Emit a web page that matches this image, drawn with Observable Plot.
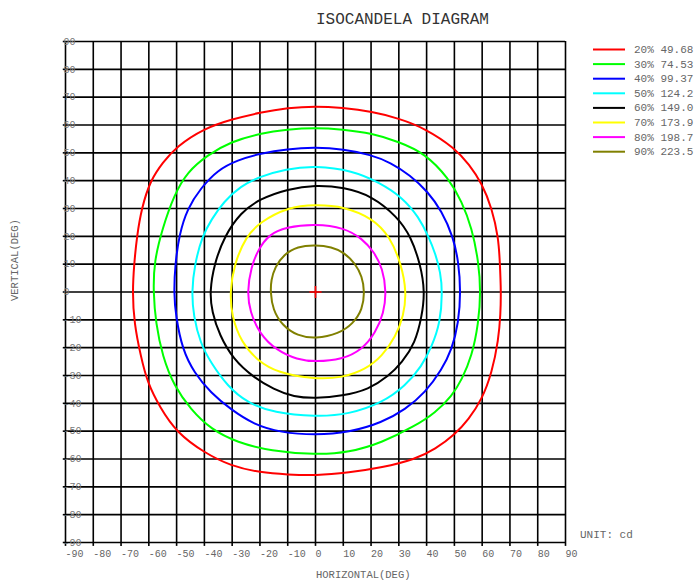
<!DOCTYPE html>
<html>
<head>
<meta charset="utf-8">
<script src="https://cdn.jsdelivr.net/npm/d3@7"></script>
<script src="https://cdn.jsdelivr.net/npm/@observablehq/plot@0.6"></script>
<style>
  html, body { margin: 0; padding: 0; background: #fff; }
  svg { display: block; }
</style>
</head>
<body>
<div id="chart"></div>
<script>
// ---- data (degrees) ----
const ticks = [-90, -80, -70, -60, -50, -40, -30, -20, -10, 0, 10, 20, 30, 40, 50, 60, 70, 80, 90];
const levelLabels = ["20% 49.68", "30% 74.53", "40% 99.37", "50% 124.2", "60% 149.0", "70% 173.9", "80% 198.7", "90% 223.5"];
const levelColors = ["#ff0000", "#00ff00", "#0000ff", "#00ffff", "#000000", "#ffff00", "#ff00ff", "#808000"];

const c20 = [[66.8,0],[66.4,10],[65.9,19.4],[63.5,30.1],[59.9,39.1],[55.3,45.8],[50.3,51.6],[39.5,58.8],[29.9,62.4],[20.4,64.8],[9.6,66.2],[0,66.8],
  [-9.9,66.2],[-20,64.5],[-29.9,62.1],[-40.1,58.8],[-50.1,52.2],[-55,46.5],[-59.5,40],[-62.6,30.1],[-64.3,20],[-65.3,10],[-65.9,0],
  [-65.3,-11.1],[-62.9,-23.1],[-60.5,-32.6],[-56,-41.5],[-50,-50.5],[-40.1,-57.7],[-30.5,-62.5],[-19.8,-64.9],[-10,-65.6],[0,-66],
  [12,-64.9],[24,-63.1],[35.9,-60.1],[43.1,-56.5],[50.3,-51.1],[55.1,-45.8],[59.9,-38.6],[63.5,-29],[65.9,-17.1],[66.6,-8]];
const c30 = [[59.5,0],[58.7,11],[56.3,22.9],[52.7,32.5],[47.9,40.9],[39.5,49.8],[29.9,54],[20.4,57],[9.6,58.4],[0,59],
  [-10.2,58.4],[-19.8,57],[-30.5,54],[-38.9,49.2],[-46.1,43.2],[-50.9,34.9],[-55.1,22.9],[-58.1,11],[-58.4,0],
  [-57.5,-11.1],[-55.1,-23.1],[-50.9,-33.8],[-44.9,-42.2],[-37.7,-49.3],[-28.1,-54.1],[-16.2,-57.1],[0,-58.5],
  [12,-57.7],[24,-54.1],[35.9,-48.1],[43.1,-43.4],[49.1,-37.4],[52.7,-31.4],[56.3,-23.1],[58.7,-11.1]];
const c40 = [[52.3,0],[51.5,11],[49.5,20],[45.5,29],[40.5,36],[34,42],[27,46.5],[20,49.3],[10,51.3],[0,52],
  [-10.2,51.4],[-19.8,49.8],[-28.1,47.4],[-35.3,43.8],[-41.3,37.3],[-46.1,30.1],[-49.1,20.5],[-50.5,10],[-51,0],
  [-50.3,-8.7],[-47.9,-20.7],[-43.7,-29],[-37.7,-36.2],[-30.5,-42.2],[-22.2,-47.6],[-12.6,-50.5],[0,-51.4],
  [12,-50.5],[24,-46.9],[32.3,-42.2],[39.5,-36.2],[45.5,-27.8],[49.1,-20.7],[51.5,-11.1]];
const c50 = [[45.7,0],[45,7],[43.2,13.7],[40.8,19.7],[37.2,26.9],[31.3,34],[22.9,39.4],[13.3,43.6],[0,45.4],
  [-10.8,44.2],[-20,41.5],[-27,38],[-33,32.5],[-37.5,26],[-40.8,20],[-43.5,10],[-44.6,0],
  [-43.9,-8.7],[-41.5,-18.3],[-37.7,-25.4],[-31.7,-33.8],[-24.6,-39.8],[-15,-43.4],[0,-44.8],
  [12,-44],[24,-39.8],[32.3,-33.8],[38.3,-26.6],[41.9,-19.5],[44.9,-11.1]];
const c60 = [[39.4,0],[37.8,9.9],[34.3,20],[29.5,27],[20.2,34.6],[10.3,37.6],[0,38.5],
  [-10,37],[-20,33.5],[-27,28.5],[-32.8,20],[-36.5,10],[-38.1,0],
  [-37.3,-7],[-34.6,-15.5],[-29.5,-24.3],[-22.5,-30.5],[-15,-35],[-7.8,-37.7],[0,-38.2],
  [9.6,-37.4],[19.2,-35],[26.3,-30.2],[31.1,-25.4],[35.9,-18.3],[38.3,-8.7]];
const c70 = [[32.8,0],[30.9,9.9],[26.8,20],[20.5,26.5],[10.3,30.7],[0,31.4],
  [-10,30.5],[-20,25.1],[-25,20],[-29.3,10],[-30.8,0],
  [-30.2,-8.7],[-26.6,-18.3],[-21,-24.5],[-13.8,-29],[0,-31.4],
  [9.6,-30.8],[18,-27.8],[24,-23.1],[28.9,-15.9],[31.7,-8.7]];
const c80 = [[25.5,0],[24.2,8.5],[21,14.5],[16.9,19.1],[10.3,23.1],[0,24.5],
  [-10.8,23.3],[-16.8,20.6],[-20.6,15.3],[-23.2,9],[-24.6,0],
  [-23.6,-7],[-20.2,-15],[-14,-21],[-6.6,-24.3],[0,-25.1],
  [9.6,-24.3],[16.8,-20.7],[21.6,-14.7],[24.6,-7.5]];
const c90 = [[17.7,0],[16.8,5.6],[14.2,10.4],[10.3,14.2],[5.8,16.2],[0,16.9],
  [-6.5,16.4],[-11.4,13.5],[-14.6,9],[-16,4.2],[-16.2,0],
  [-15.4,-6.3],[-12,-12],[-6.5,-15.8],[0,-16.8],
  [8.4,-15],[13.6,-11.3],[16.9,-6.3]];
const contours = [c20, c30, c40, c50, c60, c70, c80, c90];

// ---- chart ----
const FONT = "'Liberation Mono', 'DejaVu Sans Mono', monospace";
const W = 697, H = 581;
const mL = 65, mR = 132, mT = 41, mB = 39;

const marks = [
  Plot.ruleX(ticks, {stroke: "#000", strokeWidth: 1.6}),
  Plot.ruleY(ticks, {stroke: "#000", strokeWidth: 1.6}),
  Plot.ruleX(ticks, {x: d => d, y1: -90, y2: -91.4, stroke: "#000", strokeWidth: 1.6}),
  Plot.ruleY(ticks, {y: d => d, x1: -90, x2: -90.8, stroke: "#000", strokeWidth: 1.6}),
  Plot.text(ticks, {x: d => d, y: -90, text: d => String(d), dy: 11, textAnchor: "start", fontSize: 10, fill: "#666"}),
  Plot.text(ticks, {x: -90, y: d => d, text: d => String(d), dx: -2, textAnchor: "start", fontSize: 10, fill: "#777"})
];
contours.forEach((c, i) => {
  marks.push(Plot.line(c, {x: d => d[0], y: d => d[1], stroke: levelColors[i], strokeWidth: 2, curve: "basis-closed"}));
});
marks.push(Plot.dot([[0, 0]], {x: d => d[0], y: d => d[1], symbol: "plus", r: 4, stroke: "#ff0000", strokeWidth: 1.6}));

const svgEl = Plot.plot({
  width: W, height: H,
  marginLeft: mL, marginRight: mR, marginTop: mT, marginBottom: mB,
  x: {domain: [-90, 90], axis: null},
  y: {domain: [-90, 90], axis: null},
  style: {fontFamily: FONT, background: "#fff"},
  marks
});
document.getElementById("chart").appendChild(svgEl);

const svg = d3.select(svgEl);
const addText = (x, y, size, fill, txt) => svg.append("text")
  .attr("x", x).attr("y", y).attr("font-size", size).attr("fill", fill)
  .attr("font-family", FONT).attr("text-anchor", "start").text(txt);

addText(316, 24, 16, "#333", "ISOCANDELA DIAGRAM");
addText(316, 578, 10.5, "#666", "HORIZONTAL(DEG)");
addText(580, 538, 11, "#666", "UNIT: cd");
svg.append("text").attr("transform", "translate(18,301) rotate(-90)").attr("font-size", 10.5).attr("fill", "#666")
  .attr("font-family", FONT).attr("text-anchor", "start").text("VERTICAL(DEG)");

const lg = svg.append("g");
levelLabels.forEach((lab, i) => {
  const y = 49.5 + i * 14.6;
  lg.append("line").attr("x1", 593).attr("x2", 625).attr("y1", y).attr("y2", y)
    .attr("stroke", levelColors[i]).attr("stroke-width", 2);
  lg.append("text").attr("x", 634).attr("y", y + 3.5).attr("font-size", 11).attr("fill", "#666")
    .attr("font-family", FONT).attr("text-anchor", "start").text(lab);
});
</script>
</body>
</html>
